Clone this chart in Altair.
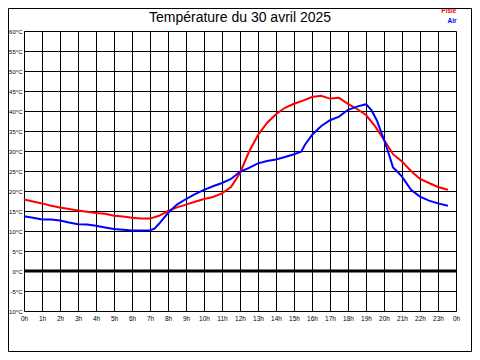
import altair as alt
import pandas as pd

# ---- data ----
title_text = "Température du 30 avril 2025"
series_names = ["Pisle", "Air"]
series_colors = ["#ff0000", "#0000ff"]

hours_pisle = [0, 0.5, 1, 1.5, 2, 2.5, 3, 3.5, 4, 4.5, 5, 5.5, 6, 6.5, 7, 7.5, 8, 8.5,
               9, 9.5, 10, 10.5, 11, 11.5, 12, 12.5, 13, 13.5, 14, 14.5, 15, 15.5, 16,
               16.5, 17, 17.5, 18, 18.5, 19, 19.5, 20, 20.5, 21, 21.5, 22, 22.5, 23, 23.55]
temp_pisle = [17.9, 17.4, 16.9, 16.3, 15.9, 15.5, 15.1, 14.8, 14.5, 14.3, 13.8, 13.6, 13.3,
              13.1, 13.1, 13.8, 15.0, 15.9, 16.6, 17.3, 18.0, 18.5, 19.4, 21.0, 24.5, 29.8,
              34.0, 37.0, 39.2, 40.8, 41.8, 42.6, 43.5, 43.8, 43.1, 43.3, 41.8, 40.5, 39.0,
              36.2, 32.8, 29.2, 27.4, 25.0, 23.0, 22.0, 21.0, 20.3]

hours_air = [0, 0.5, 1, 1.5, 2, 2.5, 3, 3.5, 4, 4.5, 5, 5.5, 6, 6.5, 7, 7.25, 7.5, 8, 8.5,
             9, 9.5, 10, 10.5, 11, 11.5, 12, 12.5, 13, 13.5, 14, 14.5, 15, 15.4, 15.6, 16,
             16.5, 17, 17.5, 18, 18.5, 19, 19.3, 19.6, 20, 20.25, 20.5, 20.75, 21, 21.5,
             22, 22.5, 23, 23.55]
temp_air = [13.7, 13.3, 12.9, 12.9, 12.6, 12.1, 11.7, 11.6, 11.3, 10.9, 10.5, 10.3, 10.1,
            10.1, 10.2, 10.6, 11.8, 14.5, 16.6, 18.0, 19.2, 20.3, 21.2, 22.0, 23.0, 24.8,
            25.8, 26.9, 27.5, 27.9, 28.5, 29.2, 29.8, 31.5, 34.0, 36.2, 37.7, 38.6, 40.3,
            41.1, 41.7, 40.2, 37.7, 32.8, 29.5, 25.9, 24.8, 23.6, 20.3, 18.6, 17.6, 16.9, 16.3]

x_ticks = list(range(0, 25))
y_ticks = list(range(-10, 61, 5))

df = pd.concat([
    pd.DataFrame({"h": hours_pisle, "t": temp_pisle, "s": series_names[0]}),
    pd.DataFrame({"h": hours_air, "t": temp_air, "s": series_names[1]}),
])

W, H = 432, 280
FONT = "Liberation Sans"

xs = alt.Scale(domain=[0, 24], nice=False, zero=False)
ys = alt.Scale(domain=[-10, 60], nice=False, zero=False)

x_axis = alt.Axis(values=x_ticks, grid=True, gridColor="black", gridOpacity=1, gridWidth=1,
                  ticks=False, domain=False, title=None,
                  labelExpr="datum.value == 24 ? '0h' : datum.value + 'h'",
                  labelFont=FONT, labelFontSize=6.5, labelColor="black", labelPadding=4,
                  labelFlush=False, labelOverlap=False)
y_axis = alt.Axis(values=y_ticks, grid=True, gridColor="black", gridOpacity=1, gridWidth=1,
                  ticks=False, domain=False, title=None,
                  labelExpr="datum.value + '°C'",
                  labelFont=FONT, labelFontSize=6, labelColor="black", labelPadding=2,
                  labelFlush=False, labelOverlap=False)

color_scale = alt.Scale(domain=series_names, range=series_colors)

lines = alt.Chart(df).mark_line(strokeWidth=2).encode(
    x=alt.X("h:Q", scale=xs, axis=x_axis),
    y=alt.Y("t:Q", scale=ys, axis=y_axis),
    color=alt.Color("s:N", scale=color_scale, legend=None),
    detail="s:N",
)

zero = alt.Chart(pd.DataFrame({"t": [0]})).mark_rule(color="black", strokeWidth=3).encode(
    y=alt.Y("t:Q", scale=ys, axis=y_axis)
)

title = alt.Chart(pd.DataFrame({"t": [title_text]})).mark_text(
    font=FONT, fontSize=14, color="black", align="center", baseline="alphabetic"
).encode(x=alt.value(W / 2), y=alt.value(-9.3), text="t:N")

legend = alt.Chart(pd.DataFrame({"s": series_names, "yy": [-18.3, -8.3]})).mark_text(
    font=FONT, fontSize=6.5, fontWeight="bold", align="right", baseline="alphabetic"
).encode(
    x=alt.value(W + 0.5),
    y=alt.Y("yy:Q", scale=None),
    text="s:N",
    color=alt.Color("s:N", scale=color_scale, legend=None),
)

frame = alt.Chart(pd.DataFrame({"a": [1]})).mark_rect(
    fillOpacity=0, stroke="black", strokeWidth=1
).encode(x=alt.value(-15.5), x2=alt.value(W + 15.5), y=alt.value(-22.5), y2=alt.value(H + 40.5))

chart = alt.layer(lines, zero, title, legend, frame).properties(
    width=W, height=H,
    autosize=alt.AutoSizeParams(type="none"),
    padding={"left": 16, "top": 23, "right": 16, "bottom": 41},
).configure_view(stroke="black", strokeWidth=1).configure(background="white")

chart.save("out.html", embed_options={"renderer": "svg", "actions": False})
